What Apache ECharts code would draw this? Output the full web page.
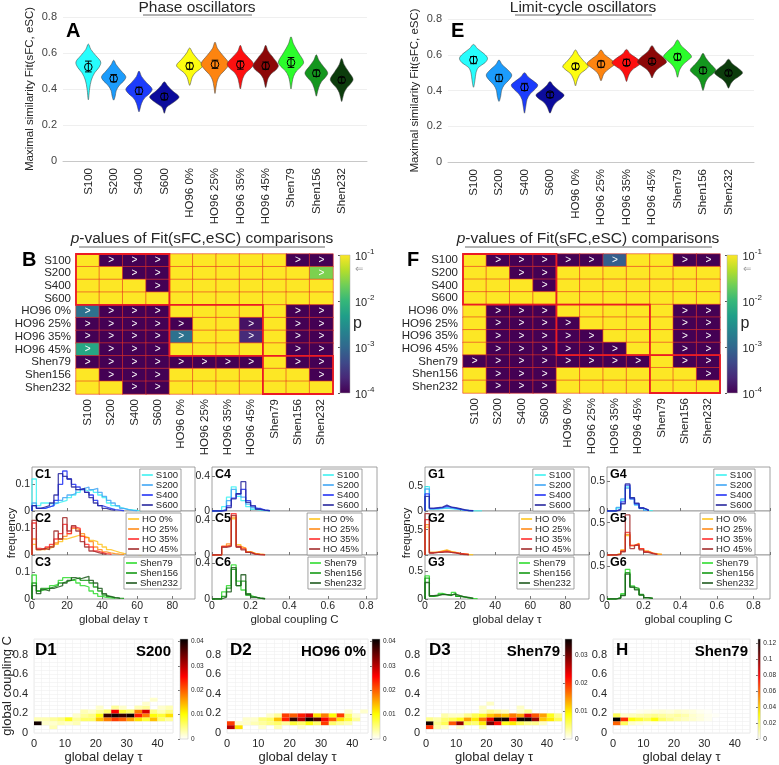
<!DOCTYPE html>
<html><head><meta charset="utf-8">
<script src="https://cdn.jsdelivr.net/npm/echarts@6.0.0/dist/echarts.min.js"></script>
<style>html,body{margin:0;padding:0;background:#fff}#c{width:779px;height:765px}</style>
</head><body><div id="c"></div>
<script>
const FONT = '"Liberation Sans", Arial, Helvetica, sans-serif';
const TXT = '#262626';

// ---------------- DATA ----------------
const cats = ['S100','S200','S400','S600','HO96 0%','HO96 25%','HO96 35%','HO96 45%','Shen79','Shen156','Shen232'];

// Violin profiles: [fit value, half-width (category units)], from top to bottom
const violinsA = [
  [[.65,0],[.62,.1],[.585,.3],[.55,.49],[.52,.42],[.49,.25],[.45,.12],[.40,.05],[.34,0]],
  [[.56,0],[.535,.1],[.50,.3],[.468,.48],[.445,.4],[.42,.22],[.39,.1],[.36,.06],[.338,0]],
  [[.50,0],[.47,.1],[.435,.3],[.40,.52],[.375,.42],[.35,.22],[.32,.1],[.295,.05],[.273,0]],
  [[.44,0],[.42,.12],[.39,.32],[.357,.58],[.335,.45],[.315,.25],[.30,.1],[.285,.05],[.265,0]],
  [[.628,0],[.60,.12],[.565,.32],[.532,.52],[.51,.4],[.49,.22],[.465,.1],[.44,.05],[.42,0]],
  [[.66,0],[.625,.1],[.585,.32],[.54,.55],[.51,.42],[.48,.22],[.45,.1],[.41,.04],[.375,0]],
  [[.643,0],[.61,.1],[.575,.32],[.54,.52],[.515,.42],[.49,.22],[.46,.1],[.43,.05],[.40,0]],
  [[.643,0],[.61,.1],[.57,.32],[.53,.5],[.505,.4],[.485,.22],[.46,.1],[.435,.05],[.408,0]],
  [[.69,0],[.65,.1],[.60,.3],[.55,.5],[.525,.4],[.50,.22],[.47,.1],[.44,.05],[.40,0]],
  [[.59,0],[.56,.1],[.525,.28],[.49,.45],[.465,.36],[.44,.2],[.41,.1],[.385,.05],[.36,0]],
  [[.57,0],[.535,.1],[.495,.28],[.455,.45],[.43,.36],[.405,.2],[.38,.1],[.355,.05],[.33,0]]
];
const meansA = [.522,.458,.39,.358,.528,.537,.536,.528,.547,.488,.45];
const errLoA = [.495,.44,.37,.34,.51,.515,.51,.51,.52,.47,.435];
const errHiA = [.555,.48,.41,.375,.545,.56,.555,.55,.575,.505,.465];

const violinsE = [
  [[.658,0],[.635,.15],[.605,.42],[.58,.55],[.555,.45],[.53,.2],[.50,.1],[.46,.06],[.418,0]],
  [[.571,0],[.545,.12],[.515,.35],[.487,.5],[.46,.4],[.43,.2],[.40,.1],[.37,.07],[.339,0]],
  [[.50,0],[.475,.15],[.45,.38],[.43,.52],[.405,.4],[.38,.22],[.35,.1],[.31,.05],[.273,0]],
  [[.45,0],[.43,.12],[.40,.35],[.375,.55],[.355,.45],[.335,.25],[.31,.12],[.29,.06],[.273,0]],
  [[.627,0],[.60,.12],[.565,.32],[.535,.5],[.515,.38],[.495,.2],[.47,.1],[.45,.05],[.426,0]],
  [[.627,0],[.60,.15],[.575,.38],[.55,.55],[.53,.4],[.51,.22],[.49,.1],[.47,.05],[.454,0]],
  [[.63,0],[.605,.15],[.58,.4],[.555,.57],[.535,.42],[.515,.22],[.49,.1],[.47,.05],[.45,0]],
  [[.651,0],[.62,.15],[.59,.4],[.56,.57],[.54,.42],[.52,.22],[.50,.1],[.485,.05],[.47,0]],
  [[.683,0],[.65,.15],[.62,.38],[.59,.55],[.57,.42],[.545,.22],[.52,.1],[.50,.05],[.474,0]],
  [[.608,0],[.58,.12],[.545,.32],[.515,.5],[.495,.4],[.47,.2],[.445,.1],[.42,.05],[.40,0]],
  [[.575,0],[.55,.15],[.525,.38],[.50,.55],[.48,.42],[.46,.22],[.44,.1],[.425,.05],[.413,0]]
];
const meansE = [.571,.47,.418,.377,.535,.548,.555,.562,.588,.512,.498];
const errLoE = [.55,.45,.40,.36,.52,.53,.54,.55,.57,.495,.485];
const errHiE = [.59,.49,.44,.39,.55,.565,.575,.58,.605,.53,.51];

// p-values of comparisons (row vs column)
const pB = [
  [0.5,1e-5,1e-5,1e-5,0.5,0.5,0.5,0.5,0.5,1e-5,1e-5],
  [0.5,0.5,1e-5,1e-5,0.5,0.5,0.5,0.5,0.5,0.5,0.025],
  [0.5,0.5,0.5,1e-5,0.5,0.5,0.5,0.5,0.5,0.5,0.5],
  [0.5,0.5,0.5,0.5,0.5,0.5,0.5,0.5,0.5,0.5,0.5],
  [1.3e-3,1e-5,1e-5,1e-5,0.5,0.5,0.5,0.5,0.5,1e-5,1e-5],
  [1e-5,1e-5,1e-5,1e-5,1e-5,0.5,0.5,1.4e-4,0.5,1e-5,1e-5],
  [1e-5,1e-5,1e-5,1e-5,1.3e-3,0.5,0.5,2.3e-4,0.5,1e-5,1e-5],
  [6e-3,1e-5,1e-5,1e-5,0.5,0.5,0.5,0.5,0.5,1e-5,1e-5],
  [1e-5,1e-5,1e-5,1e-5,1e-5,1e-5,1e-5,1e-5,0.5,1e-5,1e-5],
  [0.5,1e-5,1e-5,1e-5,0.5,0.5,0.5,0.5,0.5,0.5,1e-5],
  [0.5,0.5,1e-5,1e-5,0.5,0.5,0.5,0.5,0.5,0.5,0.5]
];
const pF = [
  [0.5,1e-5,1e-5,1e-5,1e-5,1e-5,8e-4,0.5,0.5,1e-5,1e-5],
  [0.5,0.5,1e-5,1e-5,0.5,0.5,0.5,0.5,0.5,0.5,0.5],
  [0.5,0.5,0.5,1e-5,0.5,0.5,0.5,0.5,0.5,0.5,0.5],
  [0.5,0.5,0.5,0.5,0.5,0.5,0.5,0.5,0.5,0.5,0.5],
  [0.5,1e-5,1e-5,1e-5,0.5,0.5,0.5,0.5,0.5,1e-5,1e-5],
  [0.5,1e-5,1e-5,1e-5,1e-5,0.5,0.5,0.5,0.5,1e-5,1e-5],
  [0.5,1e-5,1e-5,1e-5,1e-5,1e-5,0.5,0.5,0.5,1e-5,1e-5],
  [0.5,1e-5,1e-5,1e-5,1e-5,1e-5,1e-5,0.5,0.5,1e-5,1e-5],
  [1e-5,1e-5,1e-5,1e-5,1e-5,1e-5,1e-5,1e-5,0.5,1e-5,1e-5],
  [0.5,1e-5,1e-5,1e-5,0.5,0.5,0.5,0.5,0.5,0.5,1e-5],
  [0.5,1e-5,1e-5,1e-5,0.5,0.5,0.5,0.5,0.5,0.5,0.5]
];
const groupBounds = [[0,3],[4,7],[8,10]];
const pArrow = 0.05;

// Histograms
const tauBinW = 2.5, cBinW = 0.025;
const namesS = ['S100','S200','S400','S600'];
const namesHO = ['HO 0%','HO 25%','HO 35%','HO 45%'];
const namesShen = ['Shen79','Shen156','Shen232'];

const histC1 = [
  [0.12,0.02,0.03,0.03,0.025,0.03,0.035,0.04,0.05,0.06,0.07,0.08,0.075,0.08,0.07,0.06,0.05,0.03,0.02,0.015,0.01,0.006,0.004,0.002,0.001],
  [0.03,0.01,0.01,0.015,0.02,0.03,0.04,0.05,0.06,0.065,0.08,0.085,0.09,0.08,0.085,0.07,0.055,0.04,0.03,0.02,0.01,0.005,0.002,0.001],
  [0.02,0.01,0.01,0.015,0.02,0.04,0.1,0.15,0.12,0.1,0.09,0.08,0.07,0.06,0.04,0.02,0.015,0.01,0.005,0.003,0.001],
  [0.02,0.01,0.015,0.02,0.03,0.06,0.14,0.13,0.12,0.09,0.08,0.085,0.07,0.05,0.03,0.02,0.01,0.005,0.002]
];
const histC2 = [
  [0.04,0.02,0.02,0.025,0.03,0.04,0.05,0.06,0.065,0.07,0.075,0.07,0.065,0.055,0.05,0.04,0.03,0.02,0.015,0.01,0.006,0.004,0.003,0.002,0.001],
  [0.06,0.02,0.025,0.03,0.035,0.045,0.06,0.07,0.08,0.1,0.095,0.08,0.065,0.05,0.03,0.02,0.012,0.008,0.005,0.003,0.002],
  [0.12,0.025,0.02,0.03,0.04,0.06,0.08,0.115,0.08,0.105,0.1,0.07,0.04,0.03,0.015,0.01,0.005,0.003],
  [0.13,0.02,0.025,0.02,0.03,0.09,0.06,0.14,0.09,0.11,0.09,0.05,0.03,0.015,0.01,0.005,0.002]
];
const histC3 = [
  [0.09,0.03,0.035,0.04,0.05,0.055,0.07,0.08,0.08,0.07,0.06,0.05,0.045,0.03,0.02,0.01,0.006,0.004,0.002],
  [0.06,0.03,0.04,0.04,0.045,0.05,0.06,0.065,0.07,0.075,0.08,0.07,0.07,0.06,0.045,0.03,0.015,0.008,0.005,0.003,0.002],
  [0.05,0.02,0.035,0.03,0.04,0.045,0.05,0.06,0.07,0.08,0.075,0.08,0.085,0.07,0.06,0.04,0.02,0.01,0.005,0.003]
];
const histC4 = [
  [0,0,0.05,0.16,0.28,0.17,0.12,0.05,0.02,0.01,0.004,0.002],
  [0,0,0.02,0.12,0.25,0.2,0.16,0.08,0.04,0.02,0.01,0.004],
  [0,0,0.01,0.06,0.15,0.2,0.25,0.12,0.06,0.03,0.01,0.005],
  [0,0,0.005,0.04,0.14,0.2,0.34,0.1,0.06,0.02,0.01,0.003]
];
const histC5 = [
  [0,0,0.1,0.12,0.42,0.12,0.08,0.04,0.02,0.01,0.005],
  [0,0,0.1,0.13,0.44,0.1,0.08,0.04,0.02,0.01,0.005],
  [0,0,0.1,0.11,0.48,0.1,0.07,0.03,0.01,0.005,0.002],
  [0,0,0.09,0.1,0.46,0.09,0.06,0.03,0.01,0.005,0.002]
];
const histC6 = [
  [0,0,0.08,0.15,0.38,0.2,0.1,0.04,0.02,0.01,0.003],
  [0,0,0.03,0.12,0.33,0.15,0.2,0.06,0.02,0.01,0.003],
  [0,0,0.02,0.08,0.35,0.15,0.27,0.05,0.02,0.01,0.003]
];
const histG1 = [
  [0.5,0.04,0.04,0.05,0.06,0.05,0.04,0.03,0.02,0.01,0.005,0.003,0.002],
  [0.45,0.05,0.05,0.06,0.07,0.06,0.05,0.04,0.02,0.01,0.005],
  [0.35,0.05,0.06,0.07,0.1,0.08,0.06,0.04,0.02,0.01,0.005],
  [0.3,0.06,0.07,0.08,0.12,0.08,0.07,0.05,0.03,0.01,0.005]
];
const histG2 = [
  [0.55,0.05,0.06,0.08,0.1,0.07,0.05,0.03,0.02,0.01,0.005],
  [0.6,0.05,0.05,0.07,0.09,0.06,0.05,0.03,0.02,0.01],
  [0.7,0.04,0.05,0.06,0.07,0.05,0.04,0.03,0.02,0.01],
  [0.82,0.04,0.05,0.05,0.06,0.05,0.04,0.02,0.01,0.005]
];
const histG3 = [
  [0.42,0.05,0.06,0.1,0.08,0.06,0.12,0.05,0.04,0.02,0.01,0.005],
  [0.38,0.05,0.06,0.09,0.08,0.07,0.1,0.05,0.04,0.02,0.01],
  [0.3,0.06,0.07,0.08,0.08,0.07,0.09,0.06,0.04,0.03,0.01]
];
const histG4 = [
  [0,0,0.05,0.18,0.4,0.2,0.1,0.04,0.01,0.005],
  [0,0,0.06,0.2,0.38,0.22,0.1,0.05,0.01],
  [0,0,0.03,0.15,0.43,0.2,0.12,0.05,0.02],
  [0,0,0.02,0.12,0.45,0.22,0.13,0.05,0.02]
];
const histG5 = [
  [0,0,0.02,0.08,0.3,0.15,0.18,0.1,0.06,0.03,0.02,0.01],
  [0,0,0.02,0.07,0.32,0.14,0.17,0.1,0.06,0.03,0.015,0.01],
  [0,0,0.01,0.06,0.35,0.15,0.17,0.1,0.05,0.03,0.01],
  [0,0,0.01,0.05,0.62,0.1,0.15,0.08,0.04,0.02,0.01]
];
const histG6 = [
  [0,0,0.02,0.08,0.45,0.2,0.15,0.06,0.02,0.01],
  [0,0,0.02,0.06,0.4,0.18,0.16,0.07,0.02,0.01],
  [0,0,0.01,0.05,0.38,0.18,0.14,0.06,0.02,0.01]
];

// 2D histograms (values in units of dScale), rows start at coupling bin index row0
const dTauBinW = 2.5, dCBinW = 0.04, dScale = 1e-3;
const d1Row0 = 1;
const d1Rows = [
  [0,0,3,0,0,0,0,0,0,0,0,0,0,0,0,0,0,0],
  [40,2,2,3,2,3,0,0,0,0,0,0,0,0,0,0,0,0],
  [3,3,4,5,9,4,6,6,14,18,22,20,16,12,8,14,6,4],
  [0,0,0,0,0,2,4,5,10,38,40,38,40,24,18,10,8,12],
  [0,0,0,0,0,0,3,2,4,6,26,8,6,18,28,5,3,5],
  [0,0,0,0,0,0,0,0,2,0,4,2,0,3,4,0,2,3],
  [0,0,0,0,0,0,0,0,0,0,0,0,0,0,2,0,0,0],
  [0,0,0,0,0,0,0,0,0,0,0,0,0,0,0,2,0,0]
];
const d2Row0 = 1;
const d2Rows = [
  [30,12,0,0,2,0,3,0,0,2,0,0,0,0,0,0,0,0],
  [22,2,2,3,4,5,6,4,8,6,10,6,22,6,4,3,0,0],
  [0,0,2,2,5,6,14,24,38,30,40,36,26,20,12,8,4,0],
  [0,0,0,0,0,2,4,22,20,24,28,12,18,10,22,6,2,0],
  [0,0,0,0,0,0,0,0,0,0,0,0,0,0,0,2,0,2]
];
const d3Row0 = 1;
const d3Rows = [
  [20,3,2,0,2,0,0,3,0,0,0,0,0,0,0,0,0,0],
  [35,4,6,18,28,6,5,10,30,22,8,10,6,4,4,2,0,0],
  [4,3,5,6,8,14,10,16,24,35,35,22,35,35,28,12,10,6],
  [0,0,3,2,2,4,6,8,12,14,12,16,14,24,18,14,8,4],
  [0,0,0,0,0,0,0,2,4,3,2,0,2,4,0,0,0,0],
  [0,0,0,0,0,0,0,2,0,0,0,0,2,0,0,0,0,0],
  [0,0,0,0,0,0,0,0,2,0,0,0,0,0,0,0,0,0]
];
const hRow0 = 2;
const hRows = [
  [60,20,6,4,2,2,0,0,0,0,0,0,0,0,0,0,0,0],
  [125,70,30,25,20,30,18,14,10,8,6,4,2,0,0,0,0,0],
  [20,6,8,10,12,14,12,10,12,10,6,4,2,1,0,0,0,0],
  [0,0,0,2,3,4,5,4,6,5,4,2,1,0,0,0,0,0]
];

// ---------------- STYLES ----------------
const violinColors = ['#27fdfd','#1c9cfc','#1c3cfc','#0c0c9c','#fdfd10','#fd8410','#fd1010','#8c0808','#2cfc2c','#14961e','#0c3c0c'];
const colS = ['#3df2f2','#3fa6f5','#2233f5','#26269e'];
const colHO = ['#ffc41f','#ff8c1a','#ff2e2e','#a32c2c'];
const colShen = ['#2fdc2f','#159a15','#1f5a1f'];
const viridis = ['#440154','#482878','#3e4989','#31688e','#26828e','#1f9e89','#35b779','#6ece58','#b5de2b','#fde725'];
const hotR = ['#ffffff','#ffff80','#ffff00','#ffaa00','#ff5500','#ff0000','#aa0000','#550000','#000000'];

// ---------------- BUILD ----------------
const grids=[], xAxes=[], yAxes=[], series=[], legends=[], visualMaps=[], titles=[], graphics=[];
function addGrid(g, xa, ya){ const i=grids.length; grids.push(g); xa.gridIndex=i; ya.gridIndex=i; xAxes.push(xa); yAxes.push(ya); return i; }
const ts = (s, extra) => Object.assign({fontSize:s, color:TXT, fontFamily:FONT, fontWeight:'normal'}, extra||{});

function violinPanel(r, violins, means, lo, hi){
  const gi = addGrid({left:r[0], top:r[1], width:r[2], height:r[3]},
    {type:'category', data:[''].concat(cats,['']), boundaryGap:false,
     axisLine:{lineStyle:{color:'#c8c8c8'}}, axisTick:{show:false},
     axisLabel:Object.assign(ts(11.5),{rotate:90, interval:0, margin:7}), splitLine:{show:false}},
    {type:'value', min:0, max:0.8, interval:0.2, name:'Maximal similarity Fit(sFC, eSC)', nameLocation:'middle', nameGap:27,
     nameMoveOverlap:false, nameTextStyle:ts(11.5), axisLine:{show:false}, axisTick:{show:false},
     axisLabel:Object.assign(ts(11),{margin:6, color:'#444'}), splitLine:{lineStyle:{color:'#efefef'}}});
  series.push({type:'custom', xAxisIndex:gi, yAxisIndex:gi, silent:true,
    data: means.map((m,i)=>[i+1, m, lo[i], hi[i]]),
    renderItem:(params, api)=>{
      const i = params.dataIndex, x = api.value(0);
      const px = api.coord([1,0])[0]-api.coord([0,0])[0];
      const right=[], left=[];
      violins[i].forEach(([v,w])=>{ const p=api.coord([x,v]); right.push([p[0]+w*px,p[1]]); if(w>0) left.push([p[0]-w*px,p[1]]); });
      const pts = right.concat(left.reverse());
      const m=api.coord([x,api.value(1)]), l=api.coord([x,api.value(2)]), h=api.coord([x,api.value(3)]);
      const cap = 0.13*px;
      return {type:'group', children:[
        {type:'polygon', shape:{points:pts, smooth:0.35}, style:{fill:violinColors[i], stroke:'#3a3a3a', lineWidth:0.5}},
        {type:'line', shape:{x1:m[0],y1:h[1],x2:m[0],y2:l[1]}, style:{stroke:'#000',lineWidth:1}},
        {type:'line', shape:{x1:m[0]-cap,y1:h[1],x2:m[0]+cap,y2:h[1]}, style:{stroke:'#000',lineWidth:1}},
        {type:'line', shape:{x1:m[0]-cap,y1:l[1],x2:m[0]+cap,y2:l[1]}, style:{stroke:'#000',lineWidth:1}},
        {type:'circle', shape:{cx:m[0],cy:m[1],r:3.8}, style:{fill:'none',stroke:'#000',lineWidth:1}}
      ]};
    }});
}

const LOG05 = Math.log10(0.05);
function matrixPanel(r, pMat, cb){
  const gi = addGrid({left:r[0], top:r[1], width:r[2], height:r[3]},
    {type:'category', data:cats, axisLine:{show:false}, axisTick:{show:false}, splitLine:{show:false},
     axisLabel:Object.assign(ts(11.5),{rotate:90, interval:0, margin:5})},
    {type:'category', data:cats, inverse:true, axisLine:{show:false}, axisTick:{show:false}, splitLine:{show:false},
     axisLabel:Object.assign(ts(11.5),{interval:0, margin:5})});
  const data=[];
  pMat.forEach((row,ri)=>row.forEach((p,ci)=>data.push([ci, ri, Math.max(-4, Math.min(-1, Math.log10(p)))])));
  series.push({type:'heatmap', xAxisIndex:gi, yAxisIndex:gi, data, silent:true,
    itemStyle:{borderColor:'rgba(232,50,35,0.85)', borderWidth:0.7},
    label:{show:true, color:'#fff', fontSize:10, fontFamily:FONT, formatter:p=>p.value[2] < LOG05 ? '>' : ''}});
  visualMaps.push({type:'continuous', show:false, min:-4, max:-1, dimension:2, seriesIndex:series.length-1, inRange:{color:viridis}});
  series.push({type:'custom', xAxisIndex:gi, yAxisIndex:gi, silent:true, z:5, data:groupBounds,
    renderItem:(params, api)=>{
      const s=api.value(0), e=api.value(1); const p0=api.coord([s,s]), p1=api.coord([e,e]); const bw=api.size([1,1]);
      return {type:'rect', shape:{x:p0[0]-bw[0]/2, y:p0[1]-bw[1]/2, width:p1[0]-p0[0]+bw[0], height:p1[1]-p0[1]+bw[1]},
        style:{fill:'none', stroke:'#ec1b24', lineWidth:1.8}};
    }});
  // colorbar (log scale)
  const cg = addGrid({left:cb[0], top:cb[1], width:cb[2], height:cb[3]},
    {type:'value', min:0, max:1, show:false},
    {type:'log', logBase:10, min:1e-4, max:1e-1, position:'right', axisLine:{show:false}, splitLine:{show:false},
     axisTick:{show:true, inside:true, length:2, lineStyle:{color:'#555'}},
     axisLabel:{margin:5, formatter:v=>'{b|10}{s|' + Math.round(Math.log10(v)) + '}',
       rich:{b:{fontSize:11, color:TXT, fontFamily:FONT, lineHeight:15, verticalAlign:'bottom'}, s:{fontSize:8, color:TXT, fontFamily:FONT, lineHeight:8, verticalAlign:'top'}}},
     name:'p', nameLocation:'middle', nameRotate:0, nameGap:3, nameMoveOverlap:false, nameTextStyle:ts(16,{align:'left'})});
  series.push({type:'custom', xAxisIndex:cg, yAxisIndex:cg, silent:true, data:[[0.5,0.01]],
    renderItem:(params)=>{ const c=params.coordSys; return {type:'rect', shape:{x:c.x,y:c.y,width:c.width,height:c.height},
      style:{fill:new echarts.graphic.LinearGradient(0,1,0,0, viridis.map((col,i)=>({offset:i/(viridis.length-1), color:col}))), stroke:'#aaa', lineWidth:0.5}}; }});
  series.push({type:'scatter', xAxisIndex:cg, yAxisIndex:cg, silent:true, data:[[1,pArrow]], symbolSize:0,
    label:{show:true, position:'right', distance:5, formatter:'\u21d0', fontSize:10, color:'#777'}});
}

function histPanel(o){
  const gi = addGrid({left:o.l, top:o.t, width:o.w, height:o.h, show:true, borderColor:'#8c8c8c', borderWidth:0.8, backgroundColor:'#fff'},
    {type:'value', min:0, max:o.xMax, interval:o.xInt, axisLine:{show:false}, splitLine:{show:false},
     axisTick:{show:true, inside:true, length:3, lineStyle:{color:'#777'}},
     axisLabel:Object.assign(ts(10.5),{show:!!o.xName, margin:2, showMaxLabel:false}),
     name:o.xName||'', nameLocation:'middle', nameGap:15, nameMoveOverlap:false, nameTextStyle:ts(11.5)},
    {type:'value', min:0, max:o.yMax, interval:o.yInt, axisLine:{show:false}, splitLine:{show:false},
     axisTick:{show:true, inside:true, length:3, lineStyle:{color:'#777'}},
     axisLabel:Object.assign(ts(10.5),{margin:2, showMaxLabel:false}),
     name:o.yName||'', nameLocation:'middle', nameGap:o.yGap||15, nameMoveOverlap:false, nameTextStyle:ts(11.5)});
  o.hists.forEach((h,k)=>{
    const pts=[[0,0]]; h.forEach((v,i)=>pts.push([i*o.binW, v])); pts.push([h.length*o.binW, 0]);
    series.push({type:'line', name:o.names[k], xAxisIndex:gi, yAxisIndex:gi, data:pts, step:'end', symbol:'none', silent:true,
      lineStyle:{width:1.3, color:o.colors[k], opacity:0.85}, itemStyle:{color:o.colors[k]}, z:2+k});
  });
  titles.push({text:o.label, left:o.l+3, top:o.t+1, padding:0, textStyle:ts(12.5,{fontWeight:'bold', color:'#000'})});
  legends.push({right:o.legR, top:o.t+2, orient:'vertical', data:o.names, icon:'rect', itemWidth:11, itemHeight:1.6, itemGap:0,
    padding:[1,3,1,2], backgroundColor:'#fff', borderColor:'#8c8c8c', borderWidth:0.8, selectedMode:false, z:10,
    textStyle:ts(9.5,{lineHeight:8.6, padding:[0,0,0,-2]})});
}

function heatPanel(o){
  const gi = addGrid({left:o.l, top:o.t, width:o.w, height:o.h, show:true, borderColor:'#e4e4e4', borderWidth:0.8},
    {type:'value', min:0, max:45, interval:dTauBinW, axisLine:{show:false}, axisTick:{show:false},
     splitLine:{show:true, lineStyle:{color:'#f0f0f0', width:0.6}},
     axisLabel:Object.assign(ts(11),{margin:5, formatter:v=>{const k=Math.round(v); return (Math.abs(v-k)<1e-6 && k%10===0)? String(k):'';}}),
     name:'global delay \u03c4', nameLocation:'middle', nameGap:18, nameMoveOverlap:false, nameTextStyle:ts(13)},
    {type:'value', min:0, max:0.96, interval:dCBinW, axisLine:{show:false}, axisTick:{show:false},
     splitLine:{show:true, lineStyle:{color:'#f0f0f0', width:0.6}},
     axisLabel:Object.assign(ts(11),{margin:6, formatter:v=>{const k=Math.round(v*100); return (Math.abs(v*100-k)<1e-6 && k%20===0)? (k===0?'0':(k/100).toFixed(1)):'';}}),
     name:o.yName||'', nameLocation:'middle', nameGap:20, nameMoveOverlap:false, nameTextStyle:ts(13)});
  const data=[];
  o.rows.forEach((row,ri)=>row.forEach((v,ci)=>{ if(v>0) data.push([ci*dTauBinW, (o.row0+ri)*dCBinW, v*dScale]); }));
  series.push({type:'custom', xAxisIndex:gi, yAxisIndex:gi, silent:true, data, encode:{x:0, y:1},
    renderItem:(params, api)=>{
      const p0=api.coord([api.value(0), api.value(1)+dCBinW]), p1=api.coord([api.value(0)+dTauBinW, api.value(1)]);
      return {type:'rect', shape:{x:p0[0], y:p0[1], width:p1[0]-p0[0], height:p1[1]-p0[1]}, style:{fill:api.visual('color')}};
    }});
  visualMaps.push({type:'continuous', show:false, min:0, max:o.vmax, dimension:2, seriesIndex:series.length-1, inRange:{color:hotR}});
  titles.push({text:o.label, left:o.l+3, top:o.t+3, padding:0, textStyle:ts(17,{fontWeight:'bold', color:'#000'})});
  titles.push({text:o.name, left:o.l+o.w-2, top:o.t+5, padding:0, textAlign:'right', textStyle:ts(15,{fontWeight:'bold', color:'#000'})});
  const cg = addGrid({left:o.cb[0], top:o.t, width:o.cb[1], height:o.h},
    {type:'value', min:0, max:1, show:false},
    {type:'value', min:0, max:o.vmax, interval:o.cbInt, position:'right', axisLine:{show:false}, splitLine:{show:false},
     axisTick:{show:true, inside:true, length:2, lineStyle:{color:'#777'}},
     axisLabel:Object.assign(ts(6.5),{margin:3, showMaxLabel:false})});
  series.push({type:'custom', xAxisIndex:cg, yAxisIndex:cg, silent:true, data:[[0.5,0]],
    renderItem:(params)=>{ const c=params.coordSys; return {type:'rect', shape:{x:c.x,y:c.y,width:c.width,height:c.height},
      style:{fill:new echarts.graphic.LinearGradient(0,1,0,0, hotR.map((col,i)=>({offset:i/(hotR.length-1), color:col}))), stroke:'#bbb', lineWidth:0.5}}; }});
}

// ----- Panels -----
violinPanel([63,17,304,144], violinsA, meansA, errLoA, errHiA);
violinPanel([448,19,306,143], violinsE, meansE, errLoE, errHiE);
matrixPanel([76,254,257,140], pB, [340,255,10,138]);
matrixPanel([463,254,257,139], pF, [727,255,10.5,138]);

const cT=[467,511,555], H=44;
histPanel({l:32,t:cT[0],w:163,h:H,xMax:93,xInt:20,yMax:0.165,yInt:0.1,binW:tauBinW,hists:histC1,names:namesS,colors:colS,label:'C1',legR:598});
histPanel({l:32,t:cT[1],w:163,h:H,xMax:93,xInt:20,yMax:0.165,yInt:0.1,binW:tauBinW,hists:histC2,names:namesHO,colors:colHO,label:'C2',legR:598,yName:'frequency',yGap:14});
histPanel({l:32,t:cT[2],w:163,h:H,xMax:93,xInt:20,yMax:0.165,yInt:0.1,binW:tauBinW,hists:histC3,names:namesShen,colors:colShen,label:'C3',legR:598,xName:'global delay \u03c4'});
histPanel({l:212,t:cT[0],w:165,h:H,xMax:0.855,xInt:0.2,yMax:0.51,yInt:0.4,binW:cBinW,hists:histC4,names:namesS,colors:colS,label:'C4',legR:417});
histPanel({l:212,t:cT[1],w:165,h:H,xMax:0.855,xInt:0.2,yMax:0.51,yInt:0.4,binW:cBinW,hists:histC5,names:namesHO,colors:colHO,label:'C5',legR:417});
histPanel({l:212,t:cT[2],w:165,h:H,xMax:0.855,xInt:0.2,yMax:0.49,yInt:0.4,binW:cBinW,hists:histC6,names:namesShen,colors:colShen,label:'C6',legR:414,xName:'global coupling C'});
histPanel({l:425,t:cT[0],w:164,h:H,xMax:93.5,xInt:20,yMax:0.9,yInt:0.5,binW:tauBinW,hists:histG1,names:namesS,colors:colS,label:'G1',legR:205});
histPanel({l:425,t:cT[1],w:164,h:H,xMax:93.5,xInt:20,yMax:0.87,yInt:0.5,binW:tauBinW,hists:histG2,names:namesHO,colors:colHO,label:'G2',legR:205,yName:'frequency',yGap:12});
histPanel({l:425,t:cT[2],w:164,h:H,xMax:93.5,xInt:20,yMax:0.8,yInt:0.5,binW:tauBinW,hists:histG3,names:namesShen,colors:colShen,label:'G3',legR:205,xName:'global delay \u03c4'});
histPanel({l:607,t:cT[0],w:163,h:H,xMax:0.89,xInt:0.2,yMax:0.73,yInt:0.5,binW:cBinW,hists:histG4,names:namesS,colors:colS,label:'G4',legR:24});
histPanel({l:607,t:cT[1],w:163,h:H,xMax:0.89,xInt:0.2,yMax:0.68,yInt:0.5,binW:cBinW,hists:histG5,names:namesHO,colors:colHO,label:'G5',legR:24});
histPanel({l:607,t:cT[2],w:163,h:H,xMax:0.89,xInt:0.2,yMax:0.67,yInt:0.5,binW:cBinW,hists:histG6,names:namesShen,colors:colShen,label:'G6',legR:22,xName:'global coupling C'});

heatPanel({l:32,t:639,w:141,h:100,rows:d1Rows,row0:d1Row0,vmax:0.041,cbInt:0.01,cb:[180,8],label:'D1',name:'S200',yName:'global coupling C'});
heatPanel({l:227,t:639,w:141,h:100,rows:d2Rows,row0:d2Row0,vmax:0.041,cbInt:0.01,cb:[372,8],label:'D2',name:'HO96 0%'});
heatPanel({l:426,t:639,w:136,h:100,rows:d3Rows,row0:d3Row0,vmax:0.036,cbInt:0.01,cb:[565,7],label:'D3',name:'Shen79'});
heatPanel({l:613,t:639,w:137,h:100,rows:hRows,row0:hRow0,vmax:0.125,cbInt:0.02,cb:[758,7],label:'H',name:'Shen79'});

// ----- Titles & letters -----
titles.push({text:'Phase oscillators', left:197, top:0, padding:0, textAlign:'center', textStyle:ts(15.5)});
titles.push({text:'Limit-cycle oscillators', left:583, top:0, padding:0, textAlign:'center', textStyle:ts(15.5)});
const pTitle = '{i|p}-values of Fit(sFC,eSC) comparisons';
titles.push({text:pTitle, left:202, top:231, padding:0, textAlign:'center', textStyle:ts(15.5,{rich:{i:{fontStyle:'italic', fontWeight:'normal', fontSize:15.5, fontFamily:FONT, color:TXT}}})});
titles.push({text:pTitle, left:588, top:231, padding:0, textAlign:'center', textStyle:ts(15.5,{rich:{i:{fontStyle:'italic', fontWeight:'normal', fontSize:15.5, fontFamily:FONT, color:TXT}}})});
[['A',66,21],['E',451,21],['B',22,250],['F',407,250]].forEach(([t,x,y])=>titles.push({text:t,left:x,top:y,padding:0,textStyle:ts(20,{fontWeight:'bold',color:'#000'})}));
[[143,252,15],[515,652,15],[79,325,247],[465,712,247]].forEach(([x1,x2,y])=>graphics.push({type:'line', shape:{x1,y1:y,x2,y2:y}, style:{stroke:'#666', lineWidth:1}}));

const chart = echarts.init(document.getElementById('c'), null, {renderer:'canvas'});
chart.setOption({
  animation:false, backgroundColor:'#fff', textStyle:{fontFamily:FONT},
  grid:grids, xAxis:xAxes, yAxis:yAxes, series, legend:legends, visualMap:visualMaps, title:titles, graphic:graphics, tooltip:{show:false}
});
</script></body></html>
